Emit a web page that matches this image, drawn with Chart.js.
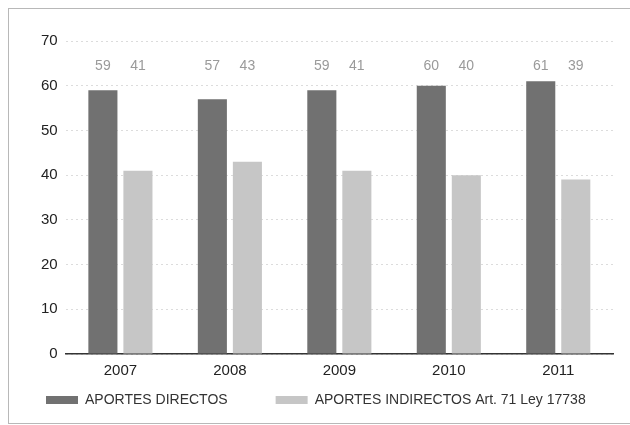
<!DOCTYPE html>
<html>
<head>
<meta charset="utf-8">
<script src="https://cdn.jsdelivr.net/npm/chart.js@4"></script>
<style>
  html, body { margin: 0; padding: 0; background: #fff; }
  #wrap { position: relative; width: 630px; height: 425px; }
  #frame { position: absolute; left: 8px; top: 8px; width: 630px; height: 414px; border: 1px solid #b8b8b8; pointer-events: none; }
</style>
</head>
<body>
<div id="wrap">
  <canvas id="chart" width="630" height="425"></canvas>
  <div id="frame"></div>
</div>
<script>
const years = ['2007', '2008', '2009', '2010', '2011'];
const directos = [59, 57, 59, 60, 61];
const indirectos = [41, 43, 41, 40, 39];
const yTicks = [0, 10, 20, 30, 40, 50, 60, 70];

const FONT = "'Liberation Sans Narrow', 'Liberation Sans', sans-serif";

// etiquetas de valor en una fila fija arriba de las barras
const valueLabels = {
  id: 'valueLabels',
  afterDatasetsDraw(chart) {
    const ctx = chart.ctx;
    const yPix = chart.scales.y.getPixelForValue(64.3);
    ctx.save();
    ctx.font = '14px ' + FONT;
    ctx.fillStyle = '#9a9a9a';
    ctx.textAlign = 'center';
    ctx.textBaseline = 'middle';
    chart.data.datasets.forEach((ds, i) => {
      chart.getDatasetMeta(i).data.forEach((bar, j) => {
        ctx.fillText(ds.data[j], bar.x, yPix);
      });
    });
    ctx.restore();
  }
};

new Chart(document.getElementById('chart'), {
  type: 'bar',
  data: {
    labels: years,
    datasets: [
      { label: 'APORTES DIRECTOS', data: directos, backgroundColor: '#717171' },
      { label: 'APORTES INDIRECTOS Art. 71 Ley 17738', data: indirectos, backgroundColor: '#c6c6c6' }
    ]
  },
  options: {
    responsive: false,
    animation: false,
    categoryPercentage: 0.64,
    barPercentage: 0.83,
    layout: { padding: { left: 33, right: 17, top: 41, bottom: 8 } },
    plugins: {
      tooltip: { enabled: false },
      legend: {
        position: 'bottom',
        align: 'start',
        labels: {
          font: { family: FONT, size: 14 },
          color: '#333',
          boxWidth: 32,
          boxHeight: 8,
          padding: 13,
          generateLabels(chart) {
            const items = Chart.defaults.plugins.legend.labels.generateLabels(chart);
            // separar más los dos elementos de la leyenda
            items[0].text = items[0].text + '         ';
            return items;
          }
        }
      }
    },
    scales: {
      x: {
        grid: { display: false },
        border: { color: '#333', width: 1.5 },
        ticks: { font: { family: FONT, size: 15 }, color: '#222', padding: 0 }
      },
      y: {
        min: 0,
        max: 70,
        afterBuildTicks(scale) { scale.ticks = yTicks.map(v => ({ value: v })); },
        border: { display: false, dash: [2, 3] },
        grid: { color: '#dcdcdc', drawTicks: false },
        ticks: { font: { family: FONT, size: 15 }, color: '#222', padding: 8 }
      }
    }
  },
  plugins: [valueLabels]
});
</script>
</body>
</html>
